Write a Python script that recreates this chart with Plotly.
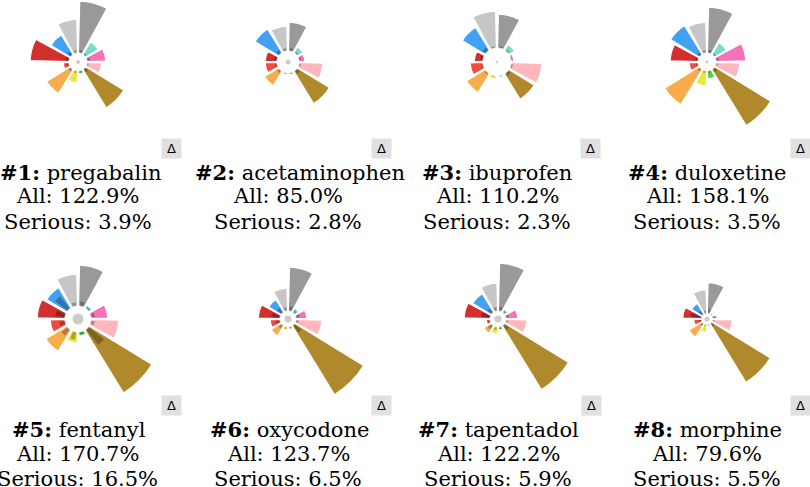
import plotly.graph_objects as go

W, H = 810, 487      # visible window
P = 30               # hidden pad on the left / top so every rose fits its subplot
FW, FH = W + P, H + P

# ---------------- data ----------------
ranks = [1, 2, 3, 4, 5, 6, 7, 8]
drugs = ["pregabalin", "acetaminophen", "ibuprofen", "duloxetine",
         "fentanyl", "oxycodone", "tapentadol", "morphine"]
all_pct = [122.9, 85.0, 110.2, 158.1, 170.7, 123.7, 122.2, 79.6]
serious_pct = [3.9, 2.8, 2.3, 3.5, 16.5, 6.5, 5.9, 5.5]

# 12 sectors, clockwise from north
sector_theta = [15, 45, 75, 105, 135, 165, 195, 225, 255, 285, 315, 345]
sector_colors = ["#999999", "#78dcc8", "#f472b6", "#ffb7bc", "#b0892c", "#4cd44c",
                 "#e8e83a", "#f9ac4b", "#f24a3c", "#d2302f", "#42a0f5", "#c6c6c6"]

# bar lengths (all reports) per drug
pregabalin_all    = [52, 15, 19, 15, 45, 3, 12, 28, 6, 39, 23, 34]
acetaminophen_all = [29, 7, 6, 24, 38, 2, 2, 17, 12, 12, 28, 25]
ibuprofen_all     = [34, 7, 3, 31, 30, 1, 3, 22, 13, 9, 27, 37]
duloxetine_all    = [46, 14, 30, 24, 66, 8, 15, 41, 9, 28, 34, 31]
fentanyl_all      = [41, 4, 17, 28, 74, 4, 11, 25, 15, 28, 24, 32]
oxycodone_all     = [44, 5, 11, 26, 81, 2, 3, 12, 10, 22, 15, 23]
tapentadol_all    = [48, 4, 12, 21, 75, 3, 7, 9, 4, 26, 22, 28]
morphine_all      = [31, 2, 5, 20, 69, 2, 8, 16, 8, 19, 13, 24]

# bar lengths (serious reports) per drug
pregabalin_serious    = [3, 2, 3, 2, 4, 2, 2, 3, 3, 4, 4, 3]
acetaminophen_serious = [3, 2, 2, 2, 4, 1, 1, 3, 2, 3, 4, 3]
ibuprofen_serious     = [2, 2, 1, 2, 3, 1, 1, 2, 2, 3, 4, 2]
duloxetine_serious    = [3, 2, 3, 2, 4, 2, 2, 3, 2, 3, 3, 3]
fentanyl_serious      = [5, 2, 4, 4, 20, 3, 8, 8, 6, 10, 16, 4]
oxycodone_serious     = [5, 3, 4, 3, 9, 2, 2, 4, 5, 9, 6, 4]
tapentadol_serious    = [4, 2, 3, 2, 6, 2, 3, 5, 2, 9, 5, 4]
morphine_serious      = [5, 1, 2, 2, 4, 1, 2, 3, 3, 11, 5, 3]

# size of the hub (hole radius) and centre dot per drug
hub_radius = [9, 11, 14, 9, 13, 8, 8, 5.5]
center_dot = [4, 5, 2.5, 3, 11, 7, 7, 5]

all_values = [pregabalin_all, acetaminophen_all, ibuprofen_all, duloxetine_all,
              fentanyl_all, oxycodone_all, tapentadol_all, morphine_all]
serious_values = [pregabalin_serious, acetaminophen_serious, ibuprofen_serious,
                  duloxetine_serious, fentanyl_serious, oxycodone_serious,
                  tapentadol_serious, morphine_serious]

# ---------------- layout (pixel positions in the visible window) ----------------
centers = [(78, 62), (288, 62), (497, 62), (707, 62),
           (78, 319), (288, 319), (498, 319), (707, 319)]
R = 90
title_dx = [2, 12, 0, 0, 1, 1, 0, 0]
text_dy = [110, 134.5, 159.5]
btn_dx, btn_dy = 93.5, 86.5


def fx(px):
    return (px + P) / FW


def fy(py):
    return 1 - (py + P) / FH


fig = go.Figure()
lay = {}
ann = []
for i in range(8):
    cx, cy = centers[i]
    hub = hub_radius[i]
    sub = "polar" if i == 0 else f"polar{i+1}"
    dom = dict(x=[fx(cx - R), fx(cx + R)], y=[fy(cy + R), fy(cy - R)])

    fig.add_trace(go.Barpolar(
        r=all_values[i], theta=sector_theta, width=27, subplot=sub,
        marker=dict(color=sector_colors, line=dict(color="white", width=1.5)),
        hoverinfo="skip", showlegend=False))
    fig.add_trace(go.Barpolar(
        r=serious_values[i], theta=sector_theta, width=14, subplot=sub,
        marker=dict(color="rgba(0,0,0,0.28)", line=dict(width=0)),
        hoverinfo="skip", showlegend=False))

    lay[sub] = dict(
        domain=dom, hole=hub / R, barmode="overlay", bgcolor="rgba(0,0,0,0)",
        angularaxis=dict(visible=False, rotation=90, direction="clockwise"),
        radialaxis=dict(visible=False, range=[0, R - hub]))

    xa = "x" if i == 0 else f"x{i+1}"
    ya = "y" if i == 0 else f"y{i+1}"
    fig.add_trace(go.Scatter(
        x=[0], y=[0], xaxis=xa, yaxis=ya, mode="markers",
        marker=dict(size=center_dot[i], color="#cccccc"),
        hoverinfo="skip", showlegend=False))
    lay["xaxis" if i == 0 else f"xaxis{i+1}"] = dict(domain=dom["x"], range=[-1, 1], visible=False, fixedrange=True)
    lay["yaxis" if i == 0 else f"yaxis{i+1}"] = dict(domain=dom["y"], range=[-1, 1], visible=False, fixedrange=True)

    lines = [f"<b>#{ranks[i]}:</b> {drugs[i]}",
             f"All: {all_pct[i]:.1f}%",
             f"Serious: {serious_pct[i]:.1f}%"]
    for k, (t, dy) in enumerate(zip(lines, text_dy)):
        ann.append(dict(text=t, x=fx(cx + (title_dx[i] if k == 0 else 0)), y=fy(cy + dy),
                        xref="paper", yref="paper",
                        xanchor="center", yanchor="middle", showarrow=False,
                        font=dict(family="DejaVu Serif", size=21, color="black")))
    ann.append(dict(text="Δ", x=fx(cx + btn_dx), y=fy(cy + btn_dy),
                    xref="paper", yref="paper", xanchor="center", yanchor="middle",
                    showarrow=False, width=19, height=19, borderpad=0,
                    bgcolor="#e0e0e0", font=dict(family="DejaVu Sans", size=13, color="black")))

fig.update_layout(width=FW, height=FH, margin=dict(l=0, r=0, t=0, b=0),
                  paper_bgcolor="white", plot_bgcolor="white",
                  annotations=ann, showlegend=False, **lay)

post = ("document.body.style.margin='0';"
        "document.body.style.overflow='hidden';"
        "var d=document.getElementById('{plot_id}');"
        f"d.style.position='relative';d.style.left='-{P}px';d.style.top='-{P}px';")

fig.write_html("out.html", config={"displayModeBar": False}, post_script=post)
